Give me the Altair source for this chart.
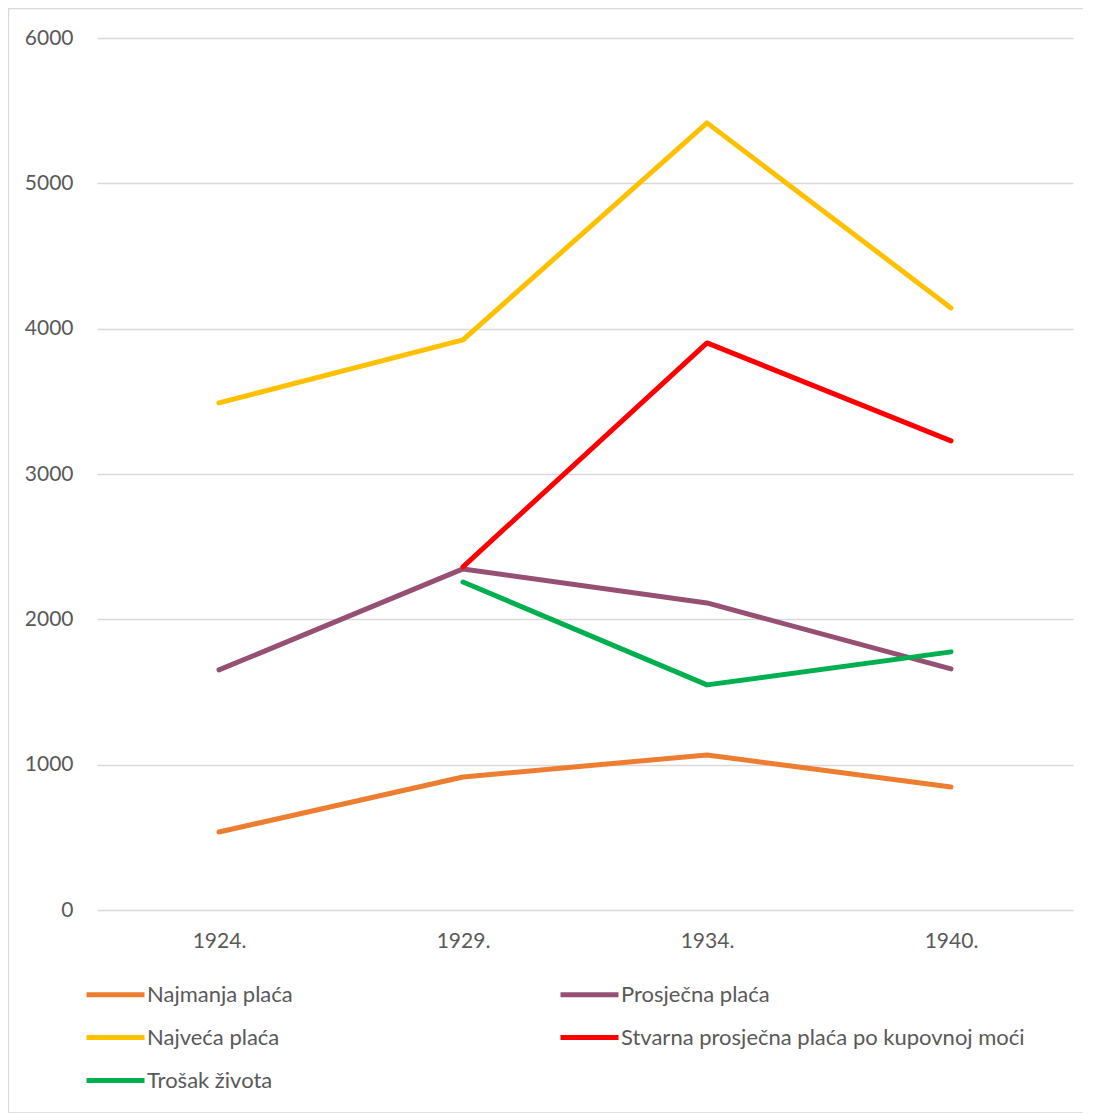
import altair as alt
import pandas as pd

years = ["1924.", "1929.", "1934.", "1940."]
series = ["Najmanja plaća", "Prosječna plaća", "Najveća plaća",
          "Stvarna prosječna plaća po kupovnoj moći", "Trošak života"]
colors = ["#ED7D31", "#955073", "#FFC000", "#FF0000", "#00B050"]

najmanja = [537, 915, 1067, 846]
prosjecna = [1652, 2347, 2113, 1659]
najveca = [3489, 3923, 5416, 4143]
stvarna = [None, 2361, 3902, 3228]
trosak = [None, 2257, 1549, 1776]

values = [najmanja, prosjecna, najveca, stvarna, trosak]
rows = []
for s, vals in zip(series, values):
    for y, v in zip(years, vals):
        if v is not None:
            rows.append({"Godina": y, "Serija": s, "Vrijednost": v})
df = pd.DataFrame(rows)

FONT = "Lato"

lines = alt.Chart(df).mark_line(strokeWidth=5, strokeCap="round", strokeJoin="round").encode(
    x=alt.X("Godina:N", sort=years, title=None,
            scale=alt.Scale(type="point", padding=0.5),
            axis=alt.Axis(labelAngle=0, ticks=False, domain=False, grid=False,
                          labelPadding=20, labelFontSize=21, labelColor="#595959",
                          labelFont=FONT)),
    y=alt.Y("Vrijednost:Q", title=None,
            scale=alt.Scale(domain=[0, 6000], nice=False),
            axis=alt.Axis(values=[0, 1000, 2000, 3000, 4000, 5000, 6000], format="d",
                          ticks=False, domain=False, grid=True, gridColor="#d9d9d9",
                          gridWidth=1.3, labelPadding=24, labelFontSize=21,
                          labelColor="#595959", labelFont=FONT)),
    color=alt.Color("Serija:N", scale=alt.Scale(domain=series, range=colors),
                    legend=alt.Legend(title=None, orient="none", legendX=-13, legendY=925,
                                      columns=2, direction="horizontal",
                                      symbolType="stroke", symbolSize=3364,
                                      symbolStrokeWidth=5, labelOffset=0,
                                      labelFontSize=22, labelColor="#595959",
                                      labelFont=FONT, rowPadding=-7,
                                      columnPadding=257, labelLimit=500)),
    detail="Serija:N",
)

border = alt.Chart(alt.Data(values=[{}])).mark_rect(
    fill=None, stroke="#d9d9d9", strokeWidth=1.3
).encode(
    x=alt.value(-88.5), x2=alt.value(1003.5),
    y=alt.value(-29.5), y2=alt.value(1075)
)

chart = alt.layer(border, lines).properties(
    width=976, height=872,
    autosize=alt.AutoSizeParams(type="none"),
    padding={"left": 89, "top": 30, "right": 10, "bottom": 203},
).configure_view(stroke=None)

chart.save("out.html", embed_options={"renderer": "svg", "actions": False})
